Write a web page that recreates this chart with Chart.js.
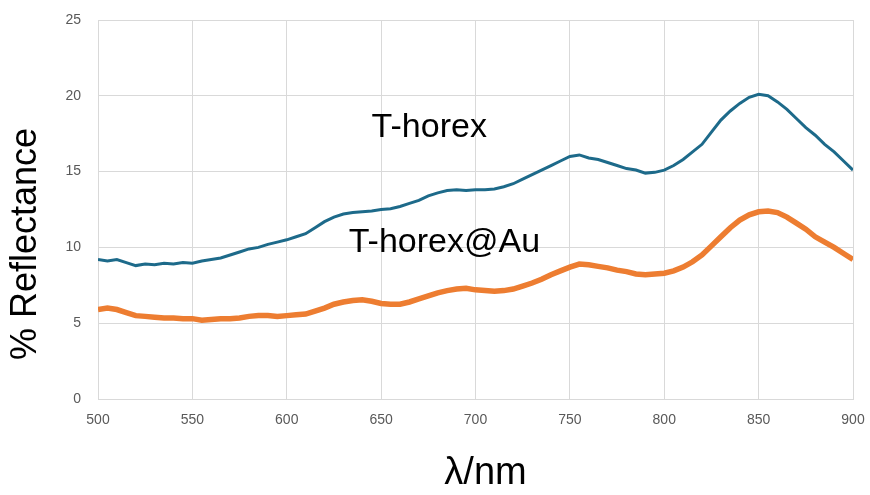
<!DOCTYPE html>
<html lang="en">
<head>
  <meta charset="UTF-8">
  <title>% Reflectance vs wavelength</title>
  <script src="https://cdn.jsdelivr.net/npm/chart.js"></script>
  <style>
    body {
      margin: 0;
      padding: 0;
      background: #ffffff;
    }
    #wrap {
      width: 870px;
      height: 495px;
      position: relative;
    }
  </style>
</head>
<body>
  <div id="wrap">
    <canvas id="reflChart"></canvas>
  </div>

  <script>
    // wavelength (nm), read every 5 nm off the picture
    const wavelengths = [
      500, 505, 510, 515, 520, 525, 530, 535, 540, 545,
      550, 555, 560, 565, 570, 575, 580, 585, 590, 595,
      600, 605, 610, 615, 620, 625, 630, 635, 640, 645,
      650, 655, 660, 665, 670, 675, 680, 685, 690, 695,
      700, 705, 710, 715, 720, 725, 730, 735, 740, 745,
      750, 755, 760, 765, 770, 775, 780, 785, 790, 795,
      800, 805, 810, 815, 820, 825, 830, 835, 840, 845,
      850, 855, 860, 865, 870, 875, 880, 885, 890, 895, 900
    ];

    // T-horex
    const thorex = [
      9.2, 9.1, 9.2, 9.0, 8.8, 8.9, 8.85, 8.95, 8.9, 9.0,
      8.95, 9.1, 9.2, 9.3, 9.5, 9.7, 9.9, 10.0, 10.2, 10.35,
      10.5, 10.7, 10.9, 11.3, 11.7, 12.0, 12.2, 12.3, 12.35, 12.4,
      12.5, 12.55, 12.7, 12.9, 13.1, 13.4, 13.6, 13.75, 13.8, 13.75,
      13.8, 13.8, 13.85, 14.0, 14.2, 14.5, 14.8, 15.1, 15.4, 15.7,
      16.0, 16.1, 15.9, 15.8, 15.6, 15.4, 15.2, 15.1, 14.9, 14.95,
      15.1, 15.4, 15.8, 16.3, 16.8, 17.6, 18.4, 19.0, 19.5, 19.9,
      20.1, 20.0, 19.6, 19.1, 18.5, 17.9, 17.4, 16.8, 16.3, 15.7, 15.1
    ];

    // T-horex@Au
    const thorexAu = [
      5.9, 6.0, 5.9, 5.7, 5.5, 5.45, 5.4, 5.35, 5.35, 5.3,
      5.3, 5.2, 5.25, 5.3, 5.3, 5.35, 5.45, 5.5, 5.5, 5.45,
      5.5, 5.55, 5.6, 5.8, 6.0, 6.25, 6.4, 6.5, 6.55, 6.45,
      6.3, 6.25, 6.25, 6.4, 6.6, 6.8, 7.0, 7.15, 7.25, 7.3,
      7.2, 7.15, 7.1, 7.15, 7.25, 7.45, 7.65, 7.9, 8.2, 8.45,
      8.7, 8.9, 8.85, 8.75, 8.65, 8.5, 8.4, 8.25, 8.2, 8.25,
      8.3, 8.45, 8.7, 9.05, 9.5, 10.1, 10.7, 11.3, 11.8, 12.15,
      12.35, 12.4, 12.3, 12.0, 11.6, 11.2, 10.7, 10.35, 10.0, 9.6, 9.2
    ];

    // in-plot labels: text, wavelength, reflectance (centre of text)
    const seriesLabels = ['T-horex', 'T-horex@Au'];
    const labelX = [675.5, 683.5];
    const labelY = [17.88, 10.32];

    const xTitle = 'λ/nm';
    const yTitle = '% Reflectance';

    const FONT = '"Liberation Sans", Arial, sans-serif';

    const toPoints = (ys) => wavelengths.map((x, i) => ({ x, y: ys[i] }));

    // series names inside the plot, placed through the scales
    const labelPlugin = {
      id: 'seriesLabels',
      afterDatasetsDraw(chart) {
        const { ctx, scales } = chart;
        ctx.save();
        ctx.font = '34px ' + FONT;
        ctx.fillStyle = '#000000';
        ctx.textAlign = 'center';
        ctx.textBaseline = 'middle';
        seriesLabels.forEach((txt, i) => {
          ctx.fillText(txt, scales.x.getPixelForValue(labelX[i]), scales.y.getPixelForValue(labelY[i]));
        });
        ctx.restore();
      }
    };

    // axis titles, a bit off-centre like the original
    const titlePlugin = {
      id: 'axisTitles',
      afterDraw(chart) {
        const { ctx, chartArea } = chart;
        ctx.save();
        ctx.fillStyle = '#000000';
        ctx.textAlign = 'center';
        ctx.textBaseline = 'middle';
        ctx.font = '38px ' + FONT;
        ctx.fillText(xTitle, (chartArea.left + chartArea.right) / 2 + 10, chartArea.bottom + 75);
        ctx.font = '36px ' + FONT;
        ctx.translate(26, chartArea.bottom - 155);
        ctx.rotate(-Math.PI / 2);
        ctx.fillText(yTitle, 0, 0);
        ctx.restore();
      }
    };

    const ctx = document.getElementById('reflChart').getContext('2d');
    new Chart(ctx, {
      type: 'line',
      data: {
        datasets: [
          {
            label: 'T-horex',
            data: toPoints(thorex),
            borderColor: '#1d6a8a',
            borderWidth: 3,
            pointRadius: 0,
            tension: 0,
            fill: false
          },
          {
            label: 'T-horex@Au',
            data: toPoints(thorexAu),
            borderColor: '#ed7d31',
            borderWidth: 5.5,
            pointRadius: 0,
            tension: 0,
            fill: false
          }
        ]
      },
      options: {
        responsive: true,
        maintainAspectRatio: false,
        animation: false,
        layout: {
          padding: { top: 20, right: 17, left: 0, bottom: 0 }
        },
        plugins: {
          legend: { display: false },
          tooltip: { enabled: false }
        },
        scales: {
          x: {
            type: 'linear',
            min: 500,
            max: 900,
            afterFit: (scale) => {
              scale.height = 96;
              scale.paddingLeft = 0;
              scale.paddingRight = 0;
            },
            ticks: {
              stepSize: 50,
              color: '#595959',
              font: { size: 14, family: FONT },
              padding: 13
            },
            grid: { color: '#d9d9d9', drawTicks: false },
            border: { color: '#d9d9d9' }
          },
          y: {
            min: 0,
            max: 25,
            afterFit: (scale) => {
              scale.width = 98;
              scale.paddingTop = 0;
              scale.paddingBottom = 0;
            },
            ticks: {
              stepSize: 5,
              color: '#595959',
              font: { size: 14, family: FONT },
              padding: 17
            },
            grid: { color: '#d9d9d9', drawTicks: false },
            border: { color: '#d9d9d9' }
          }
        }
      },
      plugins: [labelPlugin, titlePlugin]
    });
  </script>
</body>
</html>
